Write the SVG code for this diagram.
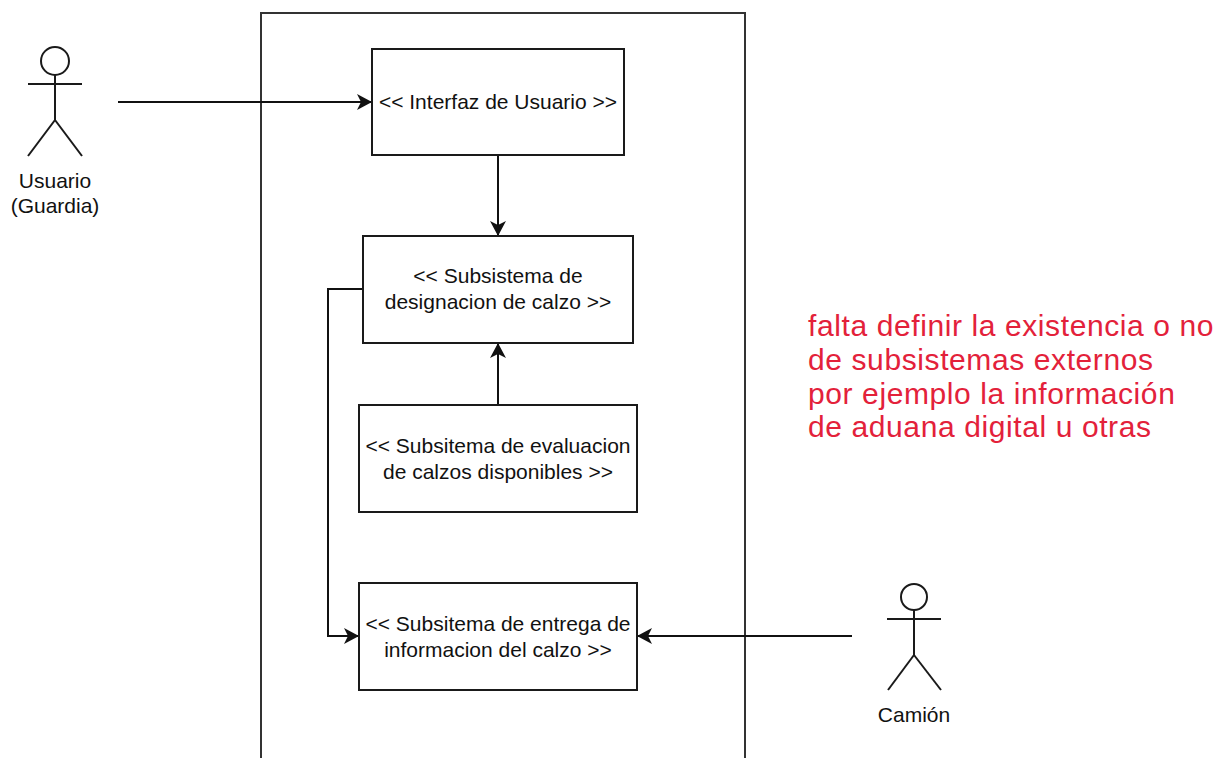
<svg xmlns="http://www.w3.org/2000/svg" width="1224" height="758" viewBox="0 0 1224 758">
<defs>
<style>
.box{fill:#ffffff;stroke:#1a1a1a;stroke-width:2}
.bound{fill:none;stroke:#333333;stroke-width:2}
.edge{fill:none;stroke:#111111;stroke-width:2}
.actor{fill:none;stroke:#1a1a1a;stroke-width:2}
.lbl{font-family:"Liberation Sans",Arial,sans-serif;font-size:21px;fill:#111111;text-anchor:middle}
.note{font-family:"Liberation Sans",Arial,sans-serif;font-size:30px;letter-spacing:0.6px;fill:#e3213a}
</style>
<marker id="arr" markerUnits="userSpaceOnUse" viewBox="0 -8 15 16" refX="15" refY="0" markerWidth="15" markerHeight="16" orient="auto">
<path d="M0,-8 L15,0 L0,8 L4,0 Z" fill="#111111"/>
</marker>
</defs>
<rect width="1224" height="758" fill="#ffffff"/>
<g id="system-boundary">
<rect class="bound" x="261" y="13" width="484" height="800"/>
</g>
<g id="connectors">
<line class="edge" x1="118" y1="102" x2="372" y2="102" marker-end="url(#arr)"/>
<line class="edge" x1="498" y1="155" x2="498" y2="236" marker-end="url(#arr)"/>
<line class="edge" x1="498" y1="405" x2="498" y2="343" marker-end="url(#arr)"/>
<path class="edge" d="M363,289 H328 V636 H359" marker-end="url(#arr)"/>
<line class="edge" x1="852" y1="636" x2="637" y2="636" marker-end="url(#arr)"/>
</g>
<g id="actor-usuario">
<circle class="actor" cx="55" cy="61" r="14"/>
<line class="actor" x1="55" y1="75" x2="55" y2="120"/>
<line class="actor" x1="28" y1="84" x2="82" y2="84"/>
<line class="actor" x1="55" y1="120" x2="28" y2="156"/>
<line class="actor" x1="55" y1="120" x2="82" y2="156"/>
<text class="lbl" x="55" y="188">Usuario</text>
<text class="lbl" x="55" y="213">(Guardia)</text>
</g>
<g id="actor-camion">
<circle class="actor" cx="914" cy="597" r="13"/>
<line class="actor" x1="914" y1="610" x2="914" y2="655"/>
<line class="actor" x1="887" y1="619" x2="941" y2="619"/>
<line class="actor" x1="914" y1="655" x2="888" y2="690"/>
<line class="actor" x1="914" y1="655" x2="941" y2="690"/>
<text class="lbl" x="914" y="722">Camión</text>
</g>
<g id="node-interfaz">
<rect class="box" x="372" y="49" width="252" height="106"/>
<text class="lbl" x="498" y="109">&lt;&lt; Interfaz de Usuario &gt;&gt;</text>
</g>
<g id="node-designacion">
<rect class="box" x="363" y="236" width="270" height="107"/>
<text class="lbl" x="498" y="283">&lt;&lt; Subsistema de</text>
<text class="lbl" x="498" y="309">designacion de calzo &gt;&gt;</text>
</g>
<g id="node-evaluacion">
<rect class="box" x="359" y="405" width="278" height="107"/>
<text class="lbl" x="498" y="453">&lt;&lt; Subsitema de evaluacion</text>
<text class="lbl" x="498" y="479">de calzos disponibles &gt;&gt;</text>
</g>
<g id="node-entrega">
<rect class="box" x="359" y="583" width="278" height="107"/>
<text class="lbl" x="498" y="631">&lt;&lt; Subsitema de entrega de</text>
<text class="lbl" x="498" y="657">informacion del calzo &gt;&gt;</text>
</g>
<g id="note">
<text class="note" x="808" y="336"><tspan x="808" y="336">falta definir la existencia o no</tspan><tspan x="808" y="369.8">de subsistemas externos</tspan><tspan x="808" y="403.6">por ejemplo la información</tspan><tspan x="808" y="437.4">de aduana digital u otras</tspan></text>
</g>
</svg>
